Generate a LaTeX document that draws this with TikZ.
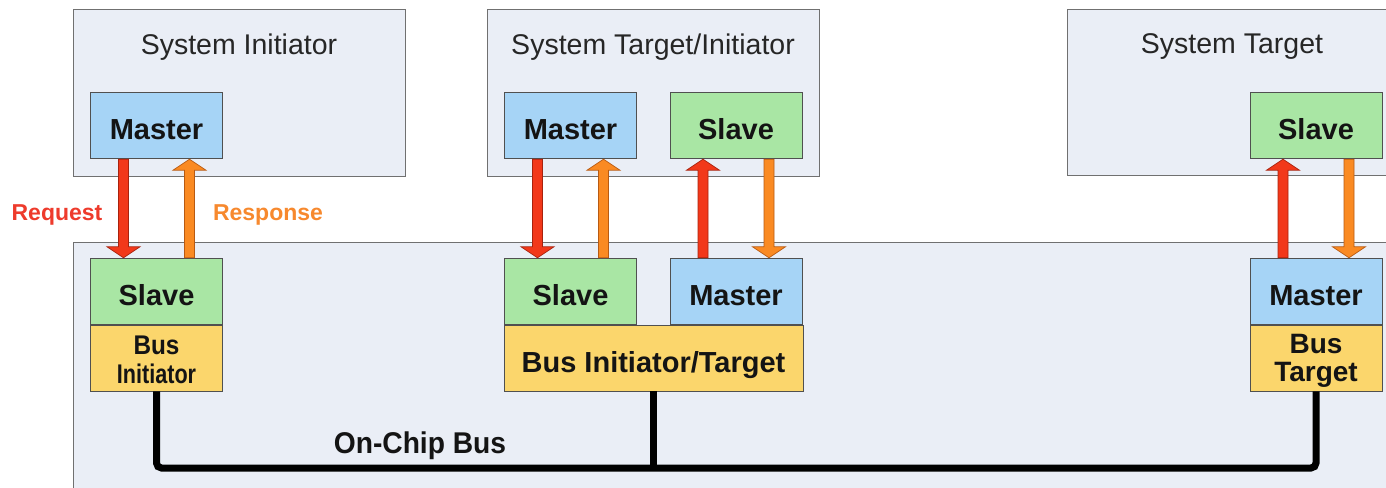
\documentclass[tikz,border=0pt]{standalone}
\usepackage{fontspec}
\setmainfont{Liberation Sans}
\usetikzlibrary{calc}

\definecolor{framefill}{HTML}{EAEEF6}
\definecolor{framedraw}{HTML}{707070}
\definecolor{masterfill}{HTML}{A6D4F6}
\definecolor{slavefill}{HTML}{A9E6A4}
\definecolor{busfill}{HTML}{FBD66C}
\definecolor{boxdraw}{HTML}{505050}
\definecolor{reqfill}{HTML}{F2381A}
\definecolor{reqdraw}{HTML}{A8220E}
\definecolor{respfill}{HTML}{FA8A22}
\definecolor{respdraw}{HTML}{B85A12}
\definecolor{reqtext}{HTML}{EE3B2C}
\definecolor{resptext}{HTML}{F7892E}

% Vertical block arrow from #1 to #2 (tip at #2), style #3
\newcommand\fatarrow[3]{%
  \draw[#3] let \p1=(#1), \p2=(#2), \p3=($(\p2)!11pt!(\p1)$) in
    (\x1-5pt,\y1) -- (\x1-5pt,\y3) -- (\x1-16.5pt,\y3) -- (\x1,\y2)
    -- (\x1+16.5pt,\y3) -- (\x1+5pt,\y3) -- (\x1+5pt,\y1) -- cycle;}

% Two-line label, lowered by #1 below the box centre
\newcommand\tworows[3]{\raisebox{-#1}[\height][\depth]{\begin{tabular}{@{}c@{}}#2\\#3\end{tabular}}}

\begin{document}
\begin{tikzpicture}[x=1pt,y=-1pt,
  frame/.style={draw=framedraw, fill=framefill, line width=1.1pt, inner sep=0pt, anchor=north west},
  unit/.style={draw=boxdraw, line width=0.9pt, minimum width=132pt, minimum height=66.5pt,
    inner sep=0pt, font=\fontsize{29}{30}\selectfont\bfseries, text=black!92},
  onerow/.style={text height=27pt, text depth=0pt},
  master/.style={unit, onerow, fill=masterfill},
  slave/.style={unit, onerow, fill=slavefill},
  busunit/.style={unit, fill=busfill},
  title/.style={font=\fontsize{28.5}{30}\selectfont, text=black!85},
  req/.style={fill=reqfill, draw=reqdraw, line width=0.7pt, line join=miter},
  resp/.style={fill=respfill, draw=respdraw, line width=0.7pt, line join=miter},
  flowlabel/.style={font=\fontsize{23}{24}\selectfont\bfseries},
  busline/.style={line width=7pt, black, rounded corners=5pt, line cap=butt}]

\clip (0,0) rectangle (1386,487);
\fill[white] (0,0) rectangle (1386,487);

% Containers
\node[frame, minimum width=332pt, minimum height=167pt] (sysI) at (73,9) {};
\node[frame, minimum width=332pt, minimum height=167pt] (sysTI) at (487,9) {};
\node[frame, minimum width=400pt, minimum height=166pt] (sysT) at (1067,9) {};
\node[frame, minimum width=1400pt, minimum height=300pt] (chip) at (73,242) {};

\node[title] (tI) at (239,47) {System Initiator};
\node[title] (tTI) at (653,47) {System Target/Initiator};
\node[title] (tT) at (1232,47) {System Target};

% On-chip bus wiring
\coordinate (busrail) at (0,468);

% Left: system initiator
\node[master] (m1) at (156.5,125.5) {Master};
\node[slave] (s1) at (156.5,291.5) {Slave};
\node[busunit, minimum height=66pt, font=\fontsize{27}{29}\selectfont\bfseries]
  (b1) at (156.5,358) {\tworows{5pt}{\scalebox{0.9}[1]{Bus}}{\scalebox{0.8}[1]{Initiator}}};

% Middle: system target/initiator
\node[master] (m2) at (570.5,125.5) {Master};
\node[slave] (s2) at (736,125.5) {Slave};
\node[slave] (s3) at (570.5,291.5) {Slave};
\node[master] (m3) at (736,291.5) {Master};
\node[busunit, onerow, text height=28pt, minimum width=299pt, minimum height=66pt] (b2) at (653.5,358) {Bus Initiator/Target};

% Right: system target
\node[slave] (s4) at (1316,125.5) {Slave};
\node[master] (m4) at (1316,291.5) {Master};
\node[busunit, minimum height=66pt, font=\fontsize{28}{28}\selectfont\bfseries]
  (b3) at (1316,358) {\tworows{4pt}{Bus}{Target}};

\draw[busline] (b1.south) -- (b1.south |- busrail) -- (b3.south |- busrail) -- (b3.south);
\draw[busline] (b2.south) -- (b2.south |- busrail);

% Request / response arrows
\fatarrow{[xshift=-33pt]m1.south}{[xshift=-33pt]s1.north}{req}
\fatarrow{[xshift=33pt]s1.north}{[xshift=33pt]m1.south}{resp}
\fatarrow{[xshift=-33pt]m2.south}{[xshift=-33pt]s3.north}{req}
\fatarrow{[xshift=33pt]s3.north}{[xshift=33pt]m2.south}{resp}
\fatarrow{[xshift=-33pt]m3.north}{[xshift=-33pt]s2.south}{req}
\fatarrow{[xshift=33pt]s2.south}{[xshift=33pt]m3.north}{resp}
\fatarrow{[xshift=-33pt]m4.north}{[xshift=-33pt]s4.south}{req}
\fatarrow{[xshift=33pt]s4.south}{[xshift=33pt]m4.north}{resp}

\node[flowlabel, text=reqtext] (lreq) at (57,215) {Request};
\node[flowlabel, text=resptext] (lresp) at (268,215) {Response};

\node[font=\fontsize{30}{30}\selectfont\bfseries, text=black!92] (lbus) at (420,446)
  {\scalebox{0.94}[1]{On-Chip Bus}};
\end{tikzpicture}
\end{document}
